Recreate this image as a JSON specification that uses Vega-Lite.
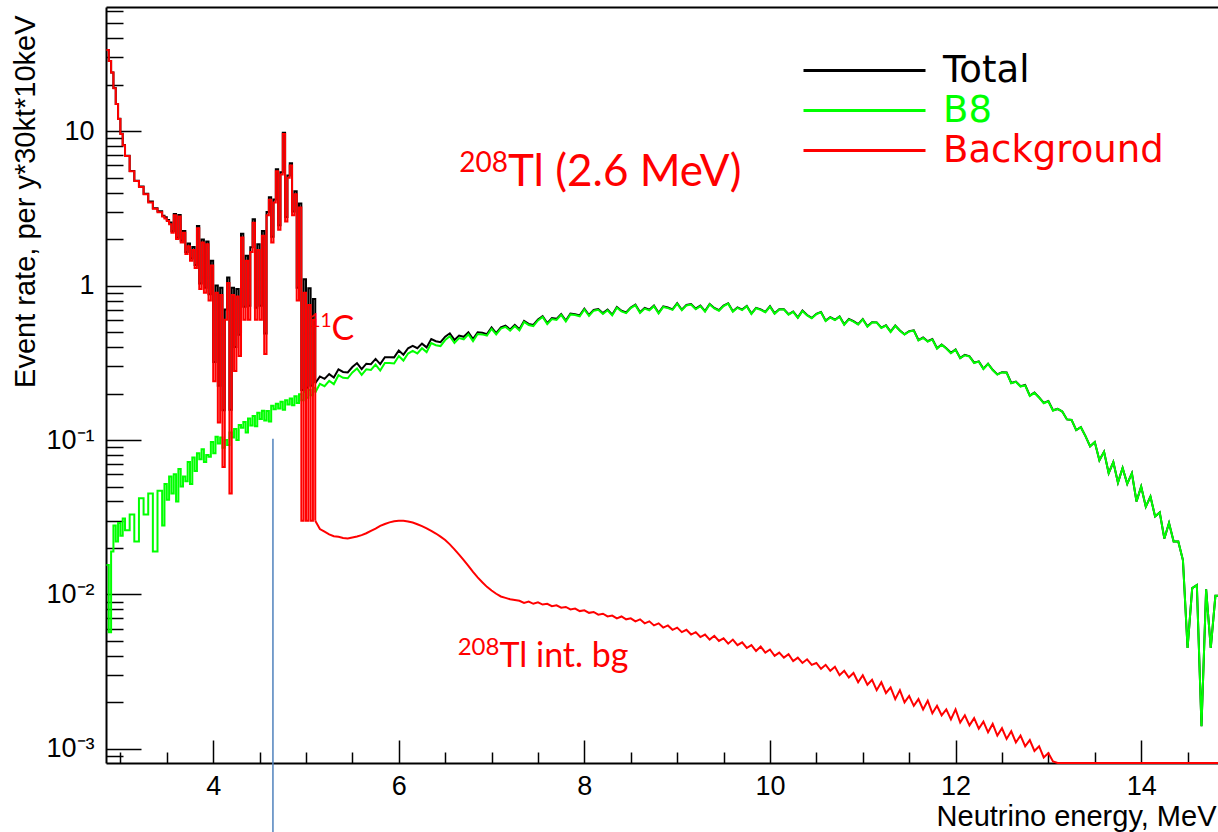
{
  "$schema": "https://vega.github.io/schema/vega-lite/v6.json",
  "width": 1112,
  "height": 756,
  "autosize": {"type": "none"},
  "padding": {"left": 106, "top": 7, "right": 0, "bottom": 69},
  "background": "white",
  "config": {"view": {"stroke": null}, "font": "Liberation Sans"},
  "resolve": {"axis": {"x": "independent", "y": "independent"}},
  "datasets": {
    "hist": [
      {"e":2.85,"Total":33.52,"B8":0.0155,"Background":33.5},
      {"e":2.875,"Total":28.51,"B8":0.0057,"Background":28.5},
      {"e":2.9,"Total":24.02,"B8":0.019,"Background":24},
      {"e":2.925,"Total":19.03,"B8":0.028,"Background":19},
      {"e":2.95,"Total":15.02,"B8":0.022,"Background":15},
      {"e":2.975,"Total":12.03,"B8":0.029,"Background":12},
      {"e":3.0,"Total":9.62,"B8":0.024,"Background":9.6},
      {"e":3.025,"Total":8.13,"B8":0.031,"Background":8.1},
      {"e":3.05,"Total":6.93,"B8":0.026,"Background":6.9},
      {"e":3.1,"Total":5.53,"B8":0.033,"Background":5.5},
      {"e":3.15,"Total":4.77,"B8":0.022,"Background":4.75},
      {"e":3.2,"Total":4.39,"B8":0.042,"Background":4.35},
      {"e":3.25,"Total":3.93,"B8":0.033,"Background":3.9},
      {"e":3.3,"Total":3.5,"B8":0.045,"Background":3.45},
      {"e":3.35,"Total":3.17,"B8":0.019,"Background":3.15},
      {"e":3.4,"Total":3.03,"B8":0.047,"Background":2.98},
      {"e":3.45,"Total":2.83,"B8":0.028,"Background":2.8},
      {"e":3.475,"Total":2.77,"B8":0.052,"Background":2.72},
      {"e":3.5,"Total":2.66,"B8":0.041,"Background":2.62},
      {"e":3.525,"Total":2.56,"B8":0.058,"Background":2.5},
      {"e":3.55,"Total":2.25,"B8":0.045,"Background":2.2},
      {"e":3.575,"Total":2.91,"B8":0.06,"Background":2.85},
      {"e":3.6,"Total":2.04,"B8":0.04,"Background":2.0},
      {"e":3.625,"Total":2.87,"B8":0.065,"Background":2.8},
      {"e":3.65,"Total":1.95,"B8":0.05,"Background":1.9},
      {"e":3.675,"Total":2.26,"B8":0.058,"Background":2.2},
      {"e":3.7,"Total":1.65,"B8":0.054,"Background":1.6},
      {"e":3.725,"Total":1.87,"B8":0.072,"Background":1.8},
      {"e":3.75,"Total":1.5,"B8":0.052,"Background":1.45},
      {"e":3.775,"Total":1.78,"B8":0.077,"Background":1.7},
      {"e":3.8,"Total":1.36,"B8":0.063,"Background":1.3},
      {"e":3.825,"Total":2.43,"B8":0.082,"Background":2.35},
      {"e":3.85,"Total":1.03,"B8":0.075,"Background":0.95},
      {"e":3.875,"Total":1.99,"B8":0.087,"Background":1.9},
      {"e":3.9,"Total":0.97,"B8":0.072,"Background":0.9},
      {"e":3.925,"Total":1.93,"B8":0.08,"Background":1.85},
      {"e":3.95,"Total":0.88,"B8":0.078,"Background":0.8},
      {"e":3.975,"Total":1.45,"B8":0.097,"Background":1.35},
      {"e":4.0,"Total":0.32,"B8":0.082,"Background":0.24},
      {"e":4.025,"Total":1.0,"B8":0.105,"Background":0.9},
      {"e":4.05,"Total":0.225,"B8":0.095,"Background":0.13},
      {"e":4.075,"Total":0.97,"B8":0.104,"Background":0.87},
      {"e":4.1,"Total":0.156,"B8":0.089,"Background":0.067},
      {"e":4.125,"Total":0.7,"B8":0.1,"Background":0.6},
      {"e":4.15,"Total":1.13,"B8":0.093,"Background":1.04},
      {"e":4.175,"Total":0.157,"B8":0.112,"Background":0.045},
      {"e":4.2,"Total":0.97,"B8":0.104,"Background":0.87},
      {"e":4.225,"Total":0.4,"B8":0.118,"Background":0.28},
      {"e":4.25,"Total":0.95,"B8":0.1,"Background":0.85},
      {"e":4.275,"Total":0.48,"B8":0.125,"Background":0.35},
      {"e":4.3,"Total":2.17,"B8":0.12,"Background":2.05},
      {"e":4.325,"Total":0.73,"B8":0.131,"Background":0.6},
      {"e":4.35,"Total":1.56,"B8":0.112,"Background":1.45},
      {"e":4.375,"Total":0.74,"B8":0.138,"Background":0.6},
      {"e":4.4,"Total":1.77,"B8":0.124,"Background":1.65},
      {"e":4.425,"Total":2.69,"B8":0.143,"Background":2.55},
      {"e":4.45,"Total":0.72,"B8":0.123,"Background":0.6},
      {"e":4.475,"Total":1.85,"B8":0.15,"Background":1.7},
      {"e":4.5,"Total":0.74,"B8":0.137,"Background":0.6},
      {"e":4.525,"Total":2.26,"B8":0.155,"Background":2.1},
      {"e":4.55,"Total":0.49,"B8":0.134,"Background":0.36},
      {"e":4.575,"Total":3.0,"B8":0.154,"Background":2.85},
      {"e":4.6,"Total":3.73,"B8":0.132,"Background":3.6},
      {"e":4.625,"Total":2.07,"B8":0.167,"Background":1.9},
      {"e":4.65,"Total":3.61,"B8":0.158,"Background":3.45},
      {"e":4.675,"Total":5.67,"B8":0.172,"Background":5.5},
      {"e":4.7,"Total":2.46,"B8":0.16,"Background":2.3},
      {"e":4.725,"Total":5.43,"B8":0.177,"Background":5.25},
      {"e":4.75,"Total":9.76,"B8":0.157,"Background":9.6},
      {"e":4.775,"Total":2.78,"B8":0.181,"Background":2.6},
      {"e":4.8,"Total":5.17,"B8":0.17,"Background":5.0},
      {"e":4.825,"Total":6.19,"B8":0.186,"Background":6.0},
      {"e":4.85,"Total":3.02,"B8":0.168,"Background":2.85},
      {"e":4.875,"Total":4.09,"B8":0.192,"Background":3.9},
      {"e":4.9,"Total":0.97,"B8":0.174,"Background":0.8},
      {"e":4.925,"Total":3.4,"B8":0.198,"Background":3.2},
      {"e":4.95,"Total":0.211,"B8":0.181,"Background":0.03},
      {"e":4.975,"Total":1.1,"B8":0.205,"Background":0.9},
      {"e":5.0,"Total":0.218,"B8":0.188,"Background":0.03},
      {"e":5.025,"Total":0.96,"B8":0.211,"Background":0.75},
      {"e":5.05,"Total":0.225,"B8":0.195,"Background":0.03},
      {"e":5.075,"Total":0.82,"B8":0.218,"Background":0.6},
      {"e":5.1,"Total":0.233,"B8":0.203,"Background":0.03},
      {"e":5.15,"Total":0.258,"B8":0.231,"Background":0.0265},
      {"e":5.2,"Total":0.249,"B8":0.223,"Background":0.0255},
      {"e":5.25,"Total":0.267,"B8":0.242,"Background":0.0245},
      {"e":5.3,"Total":0.254,"B8":0.23,"Background":0.0238},
      {"e":5.35,"Total":0.287,"B8":0.263,"Background":0.0236},
      {"e":5.4,"Total":0.276,"B8":0.253,"Background":0.0232},
      {"e":5.45,"Total":0.274,"B8":0.251,"Background":0.023},
      {"e":5.5,"Total":0.297,"B8":0.274,"Background":0.0234},
      {"e":5.55,"Total":0.315,"B8":0.291,"Background":0.0237},
      {"e":5.6,"Total":0.288,"B8":0.264,"Background":0.0242},
      {"e":5.65,"Total":0.312,"B8":0.287,"Background":0.0249},
      {"e":5.7,"Total":0.31,"B8":0.284,"Background":0.0258},
      {"e":5.75,"Total":0.335,"B8":0.308,"Background":0.0267},
      {"e":5.8,"Total":0.31,"B8":0.282,"Background":0.0278},
      {"e":5.85,"Total":0.344,"B8":0.315,"Background":0.0286},
      {"e":5.9,"Total":0.344,"B8":0.315,"Background":0.0293},
      {"e":5.95,"Total":0.343,"B8":0.313,"Background":0.0298},
      {"e":6.0,"Total":0.38,"B8":0.35,"Background":0.03},
      {"e":6.05,"Total":0.357,"B8":0.327,"Background":0.03},
      {"e":6.1,"Total":0.393,"B8":0.363,"Background":0.0297},
      {"e":6.15,"Total":0.407,"B8":0.378,"Background":0.0292},
      {"e":6.2,"Total":0.393,"B8":0.364,"Background":0.0285},
      {"e":6.25,"Total":0.421,"B8":0.393,"Background":0.0277},
      {"e":6.3,"Total":0.398,"B8":0.371,"Background":0.0268},
      {"e":6.35,"Total":0.451,"B8":0.425,"Background":0.0258},
      {"e":6.4,"Total":0.436,"B8":0.411,"Background":0.0248},
      {"e":6.45,"Total":0.43,"B8":0.406,"Background":0.0237},
      {"e":6.5,"Total":0.467,"B8":0.444,"Background":0.0225},
      {"e":6.55,"Total":0.491,"B8":0.47,"Background":0.0211},
      {"e":6.6,"Total":0.445,"B8":0.425,"Background":0.0196},
      {"e":6.65,"Total":0.475,"B8":0.457,"Background":0.0181},
      {"e":6.7,"Total":0.466,"B8":0.449,"Background":0.0167},
      {"e":6.75,"Total":0.498,"B8":0.483,"Background":0.0153},
      {"e":6.8,"Total":0.451,"B8":0.437,"Background":0.014},
      {"e":6.85,"Total":0.499,"B8":0.486,"Background":0.0129},
      {"e":6.9,"Total":0.495,"B8":0.483,"Background":0.012},
      {"e":6.95,"Total":0.485,"B8":0.474,"Background":0.0112},
      {"e":7.0,"Total":0.536,"B8":0.525,"Background":0.0106},
      {"e":7.05,"Total":0.493,"B8":0.483,"Background":0.0101},
      {"e":7.1,"Total":0.536,"B8":0.526,"Background":0.0097},
      {"e":7.15,"Total":0.55,"B8":0.54,"Background":0.0095},
      {"e":7.2,"Total":0.52,"B8":0.511,"Background":0.0093},
      {"e":7.25,"Total":0.556,"B8":0.547,"Background":0.0092},
      {"e":7.3,"Total":0.521,"B8":0.512,"Background":0.0091},
      {"e":7.35,"Total":0.59,"B8":0.581,"Background":0.0088},
      {"e":7.4,"Total":0.565,"B8":0.556,"Background":0.009},
      {"e":7.45,"Total":0.556,"B8":0.547,"Background":0.0087},
      {"e":7.5,"Total":0.604,"B8":0.595,"Background":0.0089},
      {"e":7.55,"Total":0.635,"B8":0.626,"Background":0.0086},
      {"e":7.6,"Total":0.572,"B8":0.563,"Background":0.0087},
      {"e":7.65,"Total":0.616,"B8":0.608,"Background":0.0084},
      {"e":7.7,"Total":0.609,"B8":0.6,"Background":0.0085},
      {"e":7.75,"Total":0.654,"B8":0.646,"Background":0.0082},
      {"e":7.8,"Total":0.594,"B8":0.586,"Background":0.0083},
      {"e":7.85,"Total":0.659,"B8":0.651,"Background":0.008},
      {"e":7.9,"Total":0.653,"B8":0.645,"Background":0.0081},
      {"e":7.95,"Total":0.641,"B8":0.633,"Background":0.0078},
      {"e":8.0,"Total":0.708,"B8":0.7,"Background":0.0079},
      {"e":8.05,"Total":0.645,"B8":0.637,"Background":0.0076},
      {"e":8.1,"Total":0.696,"B8":0.688,"Background":0.0077},
      {"e":8.15,"Total":0.705,"B8":0.698,"Background":0.0074},
      {"e":8.2,"Total":0.663,"B8":0.655,"Background":0.0075},
      {"e":8.25,"Total":0.699,"B8":0.692,"Background":0.0072},
      {"e":8.3,"Total":0.648,"B8":0.641,"Background":0.0073},
      {"e":8.35,"Total":0.726,"B8":0.719,"Background":0.007},
      {"e":8.4,"Total":0.688,"B8":0.681,"Background":0.0072},
      {"e":8.45,"Total":0.67,"B8":0.663,"Background":0.0069},
      {"e":8.5,"Total":0.722,"B8":0.715,"Background":0.007},
      {"e":8.55,"Total":0.753,"B8":0.746,"Background":0.0067},
      {"e":8.6,"Total":0.672,"B8":0.665,"Background":0.0069},
      {"e":8.65,"Total":0.717,"B8":0.71,"Background":0.0065},
      {"e":8.7,"Total":0.698,"B8":0.691,"Background":0.0067},
      {"e":8.75,"Total":0.742,"B8":0.736,"Background":0.0063},
      {"e":8.8,"Total":0.667,"B8":0.66,"Background":0.0065},
      {"e":8.85,"Total":0.733,"B8":0.727,"Background":0.0061},
      {"e":8.9,"Total":0.721,"B8":0.715,"Background":0.0063},
      {"e":8.95,"Total":0.702,"B8":0.696,"Background":0.0059},
      {"e":9.0,"Total":0.769,"B8":0.763,"Background":0.0061},
      {"e":9.05,"Total":0.698,"B8":0.692,"Background":0.0057},
      {"e":9.1,"Total":0.75,"B8":0.744,"Background":0.0059},
      {"e":9.15,"Total":0.759,"B8":0.753,"Background":0.0055},
      {"e":9.2,"Total":0.709,"B8":0.703,"Background":0.0057},
      {"e":9.25,"Total":0.742,"B8":0.737,"Background":0.0053},
      {"e":9.3,"Total":0.684,"B8":0.678,"Background":0.0055},
      {"e":9.35,"Total":0.761,"B8":0.756,"Background":0.0051},
      {"e":9.4,"Total":0.716,"B8":0.711,"Background":0.0054},
      {"e":9.45,"Total":0.693,"B8":0.688,"Background":0.005},
      {"e":9.5,"Total":0.742,"B8":0.737,"Background":0.0052},
      {"e":9.55,"Total":0.769,"B8":0.764,"Background":0.0048},
      {"e":9.6,"Total":0.682,"B8":0.677,"Background":0.0051},
      {"e":9.65,"Total":0.723,"B8":0.718,"Background":0.0047},
      {"e":9.7,"Total":0.699,"B8":0.694,"Background":0.0049},
      {"e":9.75,"Total":0.739,"B8":0.734,"Background":0.0045},
      {"e":9.8,"Total":0.659,"B8":0.654,"Background":0.0047},
      {"e":9.85,"Total":0.718,"B8":0.714,"Background":0.0043},
      {"e":9.9,"Total":0.702,"B8":0.697,"Background":0.0046},
      {"e":9.95,"Total":0.676,"B8":0.672,"Background":0.0042},
      {"e":10.0,"Total":0.735,"B8":0.731,"Background":0.0044},
      {"e":10.05,"Total":0.661,"B8":0.657,"Background":0.004},
      {"e":10.1,"Total":0.703,"B8":0.699,"Background":0.0042},
      {"e":10.15,"Total":0.704,"B8":0.7,"Background":0.0039},
      {"e":10.2,"Total":0.652,"B8":0.648,"Background":0.0041},
      {"e":10.25,"Total":0.68,"B8":0.676,"Background":0.0037},
      {"e":10.3,"Total":0.622,"B8":0.618,"Background":0.0039},
      {"e":10.35,"Total":0.689,"B8":0.685,"Background":0.0036},
      {"e":10.4,"Total":0.645,"B8":0.641,"Background":0.0038},
      {"e":10.45,"Total":0.618,"B8":0.614,"Background":0.0035},
      {"e":10.5,"Total":0.657,"B8":0.653,"Background":0.0036},
      {"e":10.55,"Total":0.674,"B8":0.671,"Background":0.0033},
      {"e":10.6,"Total":0.593,"B8":0.589,"Background":0.0035},
      {"e":10.65,"Total":0.624,"B8":0.621,"Background":0.0032},
      {"e":10.7,"Total":0.601,"B8":0.598,"Background":0.0034},
      {"e":10.75,"Total":0.632,"B8":0.629,"Background":0.003},
      {"e":10.8,"Total":0.561,"B8":0.558,"Background":0.0032},
      {"e":10.85,"Total":0.607,"B8":0.604,"Background":0.0029},
      {"e":10.9,"Total":0.588,"B8":0.585,"Background":0.0031},
      {"e":10.95,"Total":0.563,"B8":0.56,"Background":0.0027},
      {"e":11.0,"Total":0.607,"B8":0.604,"Background":0.003},
      {"e":11.05,"Total":0.545,"B8":0.542,"Background":0.0026},
      {"e":11.1,"Total":0.579,"B8":0.576,"Background":0.0028},
      {"e":11.15,"Total":0.578,"B8":0.576,"Background":0.0024},
      {"e":11.2,"Total":0.535,"B8":0.532,"Background":0.0027},
      {"e":11.25,"Total":0.553,"B8":0.551,"Background":0.0023},
      {"e":11.3,"Total":0.503,"B8":0.5,"Background":0.0025},
      {"e":11.35,"Total":0.551,"B8":0.549,"Background":0.0021},
      {"e":11.4,"Total":0.512,"B8":0.51,"Background":0.0024},
      {"e":11.45,"Total":0.484,"B8":0.482,"Background":0.002},
      {"e":11.5,"Total":0.507,"B8":0.505,"Background":0.0022},
      {"e":11.55,"Total":0.513,"B8":0.511,"Background":0.0019},
      {"e":11.6,"Total":0.444,"B8":0.442,"Background":0.0021},
      {"e":11.65,"Total":0.461,"B8":0.459,"Background":0.0018},
      {"e":11.7,"Total":0.436,"B8":0.434,"Background":0.00205},
      {"e":11.75,"Total":0.45,"B8":0.448,"Background":0.0017},
      {"e":11.8,"Total":0.393,"B8":0.391,"Background":0.0019},
      {"e":11.85,"Total":0.416,"B8":0.414,"Background":0.00165},
      {"e":11.9,"Total":0.393,"B8":0.391,"Background":0.0018},
      {"e":11.95,"Total":0.367,"B8":0.365,"Background":0.00155},
      {"e":12.0,"Total":0.386,"B8":0.384,"Background":0.0018},
      {"e":12.05,"Total":0.34,"B8":0.339,"Background":0.00148},
      {"e":12.1,"Total":0.356,"B8":0.354,"Background":0.00165},
      {"e":12.15,"Total":0.348,"B8":0.347,"Background":0.00142},
      {"e":12.2,"Total":0.317,"B8":0.315,"Background":0.00158},
      {"e":12.25,"Total":0.323,"B8":0.322,"Background":0.00135},
      {"e":12.3,"Total":0.29,"B8":0.288,"Background":0.0015},
      {"e":12.35,"Total":0.312,"B8":0.311,"Background":0.00128},
      {"e":12.4,"Total":0.285,"B8":0.284,"Background":0.00145},
      {"e":12.45,"Total":0.266,"B8":0.265,"Background":0.00122},
      {"e":12.5,"Total":0.275,"B8":0.274,"Background":0.00136},
      {"e":12.55,"Total":0.274,"B8":0.273,"Background":0.00116},
      {"e":12.6,"Total":0.234,"B8":0.233,"Background":0.0013},
      {"e":12.65,"Total":0.239,"B8":0.238,"Background":0.0011},
      {"e":12.7,"Total":0.223,"B8":0.222,"Background":0.00122},
      {"e":12.75,"Total":0.227,"B8":0.226,"Background":0.00104},
      {"e":12.8,"Total":0.194,"B8":0.193,"Background":0.00114},
      {"e":12.85,"Total":0.203,"B8":0.202,"Background":0.00097},
      {"e":12.9,"Total":0.189,"B8":0.188,"Background":0.00104},
      {"e":12.95,"Total":0.174,"B8":0.173,"Background":0.00088},
      {"e":13.0,"Total":0.179,"B8":0.178,"Background":0.00094},
      {"e":13.05,"Total":0.156,"B8":0.155,"Background":0.00083},
      {"e":13.1,"Total":0.159,"B8":0.159,"Background":0.00081},
      {"e":13.15,"Total":0.153,"B8":0.153,"Background":0.00081},
      {"e":13.2,"Total":0.136,"B8":0.136,"Background":0.00081},
      {"e":13.25,"Total":0.135,"B8":0.135,"Background":0.00081},
      {"e":13.3,"Total":0.116,"B8":0.116,"Background":0.00081},
      {"e":13.35,"Total":0.121,"B8":0.121,"Background":0.00081},
      {"e":13.4,"Total":0.106,"B8":0.106,"Background":0.00081},
      {"e":13.45,"Total":0.091,"B8":0.091,"Background":0.00081},
      {"e":13.5,"Total":0.097,"B8":0.097,"Background":0.00081},
      {"e":13.55,"Total":0.074,"B8":0.074,"Background":0.00081},
      {"e":13.6,"Total":0.084,"B8":0.084,"Background":0.00081},
      {"e":13.65,"Total":0.061,"B8":0.061,"Background":0.00081},
      {"e":13.7,"Total":0.072,"B8":0.072,"Background":0.00081},
      {"e":13.75,"Total":0.053,"B8":0.053,"Background":0.00081},
      {"e":13.8,"Total":0.066,"B8":0.066,"Background":0.00081},
      {"e":13.85,"Total":0.052,"B8":0.052,"Background":0.00081},
      {"e":13.9,"Total":0.061,"B8":0.061,"Background":0.00081},
      {"e":13.95,"Total":0.04,"B8":0.04,"Background":0.00081},
      {"e":14.0,"Total":0.05,"B8":0.05,"Background":0.00081},
      {"e":14.05,"Total":0.037,"B8":0.037,"Background":0.00081},
      {"e":14.1,"Total":0.043,"B8":0.043,"Background":0.00081},
      {"e":14.15,"Total":0.032,"B8":0.032,"Background":0.00081},
      {"e":14.2,"Total":0.034,"B8":0.034,"Background":0.00081},
      {"e":14.25,"Total":0.023,"B8":0.023,"Background":0.00081},
      {"e":14.3,"Total":0.029,"B8":0.029,"Background":0.00081},
      {"e":14.35,"Total":0.022,"B8":0.022,"Background":0.00081},
      {"e":14.4,"Total":0.022,"B8":0.022,"Background":0.00081},
      {"e":14.45,"Total":0.0167,"B8":0.0167,"Background":0.00081},
      {"e":14.5,"Total":0.0045,"B8":0.0045,"Background":0.00081},
      {"e":14.55,"Total":0.011,"B8":0.011,"Background":0.00081},
      {"e":14.6,"Total":0.0115,"B8":0.0115,"Background":0.00081},
      {"e":14.65,"Total":0.0014,"B8":0.0014,"Background":0.00081},
      {"e":14.7,"Total":0.0108,"B8":0.0108,"Background":0.00081},
      {"e":14.75,"Total":0.0045,"B8":0.0045,"Background":0.00081},
      {"e":14.8,"Total":0.0098,"B8":0.0098,"Background":0.00081},
      {"e":14.83,"Total":0.0098,"B8":0.0098,"Background":0.00081}
    ],
    "marker": [{"e":4.644,"top":0.102,"bottom":0.00029}],
    "tl26": [{"e":7.177,"v":4.43,"sup":"208","txt":"Tl (2.6 MeV)"}],
    "c11": [{"e":5.275,"v":0.445,"sup":"11","txt":"C"}],
    "tlbg": [{"e":7.085,"v":0.0034,"sup":"208","txt":"Tl int. bg"}]
  },
  "layer": [
    {
      "data": {"name": "hist"},
      "transform": [{"filter": "datum.e <= 5.1"}],
      "mark": {"type": "line", "interpolate": "step-after", "strokeWidth": 2, "clip": false},
      "encoding": {
        "x": {"field": "e", "type": "quantitative", "title": "Neutrino energy, MeV",
          "scale": {"domain": [2.845, 14.828], "nice": false, "zero": false},
          "axis": {
            "orient": "bottom",
            "values": [4,6,8,10,12,14],
            "labelExpr": "'' + datum.value",
            "tickSize": -23, "tickWidth": 1.5, "tickColor": "black",
            "domain": true, "domainColor": "black", "domainWidth": 2,
            "labelFont": "Liberation Sans", "labelFontSize": 27, "labelColor": "black",
            "labelPadding": 33, "labelFlush": false, "labelOverlap": false,
            "titleFont": "Liberation Sans", "titleFontSize": 29, "titleFontWeight": "normal",
            "titleColor": "black", "titleAlign": "right", "titleBaseline": "alphabetic",
            "titleX": 1110, "titleY": 62, "grid": false
          }
        },
        "y": {"field": "Total", "type": "quantitative", "title": "Event rate, per y*30kt*10keV",
          "scale": {"type": "log", "domain": [0.00081, 63.7], "nice": false},
          "axis": {
            "orient": "left",
            "values": [0.001, 0.01, 0.1, 1, 10],
            "labelExpr": "datum.value === 10 ? '10' : datum.value === 1 ? '1' : datum.value === 0.1 ? '10⁻¹' : datum.value === 0.01 ? '10⁻²' : '10⁻³'",
            "tickSize": -35, "tickWidth": 1.5, "tickColor": "black",
            "domain": true, "domainColor": "black", "domainWidth": 2,
            "labelFont": "Liberation Sans", "labelFontSize": 27, "labelColor": "black",
            "labelPadding": 47, "labelOverlap": false, "labelFlush": false,
            "titleFont": "Liberation Sans", "titleFontSize": 29, "titleFontWeight": "normal",
            "titleColor": "black", "titleAngle": -90, "titleAlign": "right", "titleBaseline": "bottom",
            "titleX": -66, "titleY": 8, "grid": false
          }
        },
        "color": {"datum": "Total", "type": "nominal",
          "scale": {"domain": ["Total", "B8", "Background"], "range": ["#000000", "#00ff00", "#ff0000"]},
          "legend": {
            "orient": "none", "legendX": 696, "legendY": 45, "title": null, "padding": 0,
            "symbolType": "stroke", "symbolSize": 14884, "symbolStrokeWidth": 3,
            "labelFont": "DejaVu Sans", "labelFontSize": 37, "labelOffset": 16, "labelLimit": 600,
            "clipHeight": 37, "rowPadding": 2,
            "labelColor": {"expr": "datum.label === 'Total' ? '#000000' : datum.label === 'B8' ? '#00ff00' : '#ff0000'"}
          }
        }
      }
    },
    {
      "data": {"name": "hist"},
      "transform": [{"filter": "datum.e >= 5.1"}],
      "mark": {"type": "line", "interpolate": "linear", "strokeWidth": 2, "clip": false},
      "encoding": {
        "x": {"field": "e", "type": "quantitative", "axis": null},
        "y": {"field": "Total", "type": "quantitative", "axis": null},
        "color": {"datum": "Total", "type": "nominal"}
      }
    },
    {
      "data": {"name": "hist"},
      "transform": [{"filter": "datum.e <= 5.1"}],
      "mark": {"type": "line", "interpolate": "step-after", "strokeWidth": 2, "clip": false},
      "encoding": {
        "x": {"field": "e", "type": "quantitative",
          "axis": {"orient": "bottom", "values": [3,3.5,4.5,5,5.5,6.5,7,7.5,8.5,9,9.5,10.5,11,11.5,12.5,13,13.5,14.5],
            "tickSize": -11, "tickWidth": 1.5, "tickColor": "black", "labels": false, "domain": false, "title": null, "grid": false}},
        "y": {"field": "B8", "type": "quantitative",
          "axis": {"orient": "left",
            "values": [0.0009,0.002,0.003,0.004,0.005,0.006,0.007,0.008,0.009,0.02,0.03,0.04,0.05,0.06,0.07,0.08,0.09,0.2,0.3,0.4,0.5,0.6,0.7,0.8,0.9,2,3,4,5,6,7,8,9,20,30,40,50,60],
            "tickSize": -17, "tickWidth": 1.5, "tickColor": "black", "labels": false, "domain": false, "title": null, "grid": false}},
        "color": {"datum": "B8", "type": "nominal"}
      }
    },
    {
      "data": {"name": "hist"},
      "transform": [{"filter": "datum.e >= 5.1"}],
      "mark": {"type": "line", "interpolate": "linear", "strokeWidth": 2, "clip": false},
      "encoding": {
        "x": {"field": "e", "type": "quantitative", "axis": null},
        "y": {"field": "B8", "type": "quantitative", "axis": null},
        "color": {"datum": "B8", "type": "nominal"}
      }
    },
    {
      "data": {"name": "hist"},
      "transform": [{"filter": "datum.e <= 5.1"}],
      "mark": {"type": "line", "interpolate": "step-after", "strokeWidth": 2, "clip": false},
      "encoding": {
        "x": {"field": "e", "type": "quantitative", "axis": null},
        "y": {"field": "Background", "type": "quantitative", "axis": null},
        "color": {"datum": "Background", "type": "nominal"}
      }
    },
    {
      "data": {"name": "hist"},
      "transform": [{"filter": "datum.e >= 5.1"}],
      "mark": {"type": "line", "interpolate": "linear", "strokeWidth": 2, "clip": false},
      "encoding": {
        "x": {"field": "e", "type": "quantitative", "axis": null},
        "y": {"field": "Background", "type": "quantitative", "axis": null},
        "color": {"datum": "Background", "type": "nominal"}
      }
    },
    {
      "data": {"name": "marker"},
      "mark": {"type": "rule", "color": "#4f81bd", "strokeWidth": 1.5, "clip": false},
      "encoding": {
        "x": {"field": "e", "type": "quantitative",
          "axis": {"orient": "top", "ticks": false, "labels": false, "domain": true, "domainColor": "black", "domainWidth": 2, "title": null, "grid": false}},
        "y": {"field": "top", "type": "quantitative", "axis": null},
        "y2": {"field": "bottom"}
      }
    },
    {
      "data": {"name": "tl26"},
      "mark": {"type": "text", "align": "right", "baseline": "alphabetic", "font": "Lato", "fontSize": 28, "dy": -14, "color": "#ff0000"},
      "encoding": {
        "x": {"field": "e", "type": "quantitative", "axis": null},
        "y": {"field": "v", "type": "quantitative", "axis": null},
        "text": {"field": "sup"}
      }
    },
    {
      "data": {"name": "tl26"},
      "mark": {"type": "text", "align": "left", "baseline": "alphabetic", "font": "Lato", "fontSize": 44, "color": "#ff0000"},
      "encoding": {
        "x": {"field": "e", "type": "quantitative", "axis": null},
        "y": {"field": "v", "type": "quantitative", "axis": null},
        "text": {"field": "txt"}
      }
    },
    {
      "data": {"name": "c11"},
      "mark": {"type": "text", "align": "right", "baseline": "alphabetic", "font": "Lato", "fontSize": 19, "dy": -13, "color": "#ff0000"},
      "encoding": {
        "x": {"field": "e", "type": "quantitative", "axis": null},
        "y": {"field": "v", "type": "quantitative", "axis": null},
        "text": {"field": "sup"}
      }
    },
    {
      "data": {"name": "c11"},
      "mark": {"type": "text", "align": "left", "baseline": "alphabetic", "font": "Lato", "fontSize": 34, "color": "#ff0000"},
      "encoding": {
        "x": {"field": "e", "type": "quantitative", "axis": null},
        "y": {"field": "v", "type": "quantitative", "axis": null},
        "text": {"field": "txt"}
      }
    },
    {
      "data": {"name": "tlbg"},
      "mark": {"type": "text", "align": "right", "baseline": "alphabetic", "font": "Lato", "fontSize": 24, "dy": -12, "color": "#ff0000"},
      "encoding": {
        "x": {"field": "e", "type": "quantitative", "axis": null},
        "y": {"field": "v", "type": "quantitative", "axis": null},
        "text": {"field": "sup"}
      }
    },
    {
      "data": {"name": "tlbg"},
      "mark": {"type": "text", "align": "left", "baseline": "alphabetic", "font": "Lato", "fontSize": 34, "color": "#ff0000"},
      "encoding": {
        "x": {"field": "e", "type": "quantitative", "axis": null},
        "y": {"field": "v", "type": "quantitative", "axis": null},
        "text": {"field": "txt"}
      }
    }
  ]
}
